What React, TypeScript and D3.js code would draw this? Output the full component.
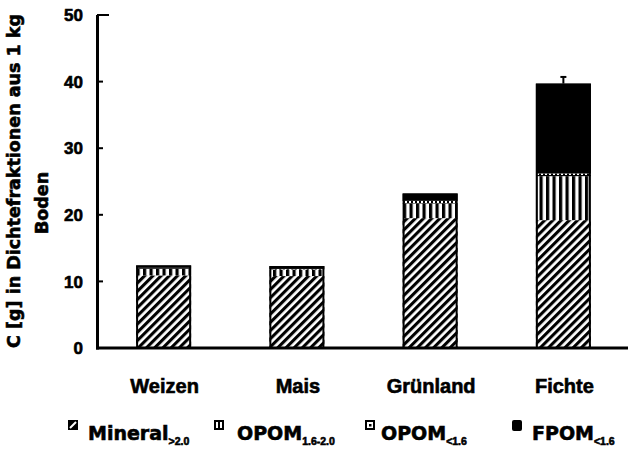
import React from "react";
import * as d3 from "d3";

const categories = ["Weizen", "Mais", "Grünland", "Fichte"];
const seriesKeys = ["mineral", "opom1620", "opom16", "fpom"];
const mineral = [10.9, 10.8, 19.5, 19.2];
const opom1620 = [1.0, 1.0, 2.2, 6.6];
const opom16 = [0.2, 0.2, 0.4, 0.4];
const fpom = [0.3, 0.3, 1.1, 13.5];
const errorTop = [0, 0, 0, 1.0];
const yTicks = [0, 10, 20, 30, 40, 50];
const legendMain = ["Mineral", "OPOM", "OPOM", "FPOM"];
const legendSub = [">2.0", "1.6-2.0", "<1.6", "<1.6"];

const W = 628;
const H = 453;

export default function App() {
  const data = categories.map((c, i) => ({
    cat: c,
    mineral: mineral[i],
    opom1620: opom1620[i],
    opom16: opom16[i],
    fpom: fpom[i],
  }));
  const stack = d3.stack<any>().keys(seriesKeys)(data);

  const x = d3
    .scaleBand<string>()
    .domain(categories)
    .range([97, 630])
    .paddingInner(0.587)
    .paddingOuter(0.2935);
  const y = d3.scaleLinear().domain([0, 50]).range([348, 15]);

  const fills: Record<string, string> = {
    mineral: "url(#hatch)",
    opom1620: "url(#vstripe)",
    opom16: "url(#dots)",
    fpom: "#000",
  };

  const legendIconX = [68, 214, 365, 512];
  const legendTextX = [88, 237, 381, 532];

  const bold = "'Liberation Sans', Arial, sans-serif";
  const dejavu = "'DejaVu Sans', sans-serif";
  const heavy = { stroke: "#000", strokeWidth: 0.6 };

  return (
    <svg
      width={W}
      height={H}
      style={{ position: "absolute", left: 0, top: 0, background: "#fff" }}
    >
      <defs>
        <pattern
          id="hatch"
          width={5.8}
          height={5.8}
          patternUnits="userSpaceOnUse"
          patternTransform="rotate(45)"
        >
          <rect width={5.8} height={5.8} fill="#fff" />
          <rect width={3.1} height={5.8} fill="#000" />
        </pattern>
        <pattern id="vstripe" width={6.5} height={6} patternUnits="userSpaceOnUse">
          <rect width={6.5} height={6} fill="#fff" />
          <rect width={3.2} height={6} fill="#000" />
        </pattern>
        <pattern id="dots" width={4} height={4} patternUnits="userSpaceOnUse">
          <rect width={4} height={4} fill="#000" />
          <rect x={1} y={1} width={2} height={2} fill="#fff" />
        </pattern>
      </defs>
      <rect width={W} height={H} fill="#fff" />

      {stack.map((s) =>
        s.map((d, i) => (
          <rect
            key={s.key + i}
            x={x(categories[i])}
            y={y(d[1])}
            width={x.bandwidth()}
            height={Math.max(0, y(d[0]) - y(d[1]))}
            fill={fills[s.key]}
          />
        ))
      )}
      {categories.map((c, i) => {
        const top = stack[stack.length - 1][i][1];
        return (
          <rect
            key={"o" + c}
            x={x(c)! + 1}
            y={y(top) + 1}
            width={x.bandwidth() - 2}
            height={y(0) - y(top) - 1}
            fill="none"
            stroke="#000"
            strokeWidth={2}
          />
        );
      })}
      {categories.map((c, i) => {
        if (!errorTop[i]) return null;
        const top = stack[stack.length - 1][i][1];
        const cx = x(c)! + x.bandwidth() / 2;
        return (
          <g key={"e" + c} stroke="#000" strokeWidth={2}>
            <line x1={cx} x2={cx} y1={y(top)} y2={y(top + errorTop[i])} />
            <line x1={cx - 3} x2={cx + 3} y1={y(top + errorTop[i])} y2={y(top + errorTop[i])} />
          </g>
        );
      })}

      <line x1={97.5} x2={97.5} y1={y(50)} y2={y(0) + 1.5} stroke="#000" strokeWidth={3} />
      <line x1={96} x2={628} y1={y(0)} y2={y(0)} stroke="#000" strokeWidth={3} />
      {yTicks.map((t) => (
        <g key={"t" + t}>
          {t > 0 && (
            <line
              x1={97}
              x2={t === 50 ? 109 : 103}
              y1={y(t)}
              y2={y(t)}
              stroke="#000"
              strokeWidth={2}
            />
          )}
          <text
            x={83}
            y={y(t)}
            dy="0.36em"
            textAnchor="end"
            fontFamily={bold}
            fontWeight="bold"
            fontSize={17}
            {...heavy}
          >
            {t}
          </text>
        </g>
      ))}

      {categories.map((c) => (
        <text
          key={"c" + c}
          x={x(c)! + x.bandwidth() / 2 + 1}
          y={393}
          textAnchor="middle"
          fontFamily={bold}
          fontWeight="bold"
          fontSize={20}
          {...heavy}
        >
          {c}
        </text>
      ))}

      <text
        transform="translate(20,181) rotate(-90)"
        textAnchor="middle"
        fontFamily={dejavu}
        fontWeight="bold"
        fontSize={17.5}
        {...heavy}
      >
        C [g] in Dichtefraktionen aus 1 kg
      </text>
      <text
        transform="translate(48,203) rotate(-90)"
        textAnchor="middle"
        fontFamily={dejavu}
        fontWeight="bold"
        fontSize={17.5}
        {...heavy}
      >
        Boden
      </text>

      {seriesKeys.map((k, i) => (
        <g key={"l" + k}>
          {k === "mineral" && (
            <g>
              <rect x={legendIconX[i]} y={420} width={10} height={10} fill="#000" />
              <line
                x1={legendIconX[i] + 2}
                y1={428}
                x2={legendIconX[i] + 8}
                y2={422}
                stroke="#fff"
                strokeWidth={2}
              />
            </g>
          )}
          {k === "opom1620" && (
            <g>
              <rect x={legendIconX[i]} y={420} width={10} height={10} fill="#000" />
              <rect x={legendIconX[i] + 2} y={422} width={2} height={6} fill="#fff" />
              <rect x={legendIconX[i] + 6} y={422} width={2} height={6} fill="#fff" />
            </g>
          )}
          {k === "opom16" && (
            <g>
              <rect
                x={legendIconX[i] + 1}
                y={421}
                width={8}
                height={8}
                fill="#fff"
                stroke="#000"
                strokeWidth={2}
              />
              <rect x={legendIconX[i] + 4} y={424} width={2.5} height={2.5} fill="#000" />
            </g>
          )}
          {k === "fpom" && (
            <rect x={legendIconX[i]} y={420} width={10} height={11} rx={2} fill="#000" />
          )}
          <text
            x={legendTextX[i]}
            y={440}
            fontFamily={dejavu}
            fontWeight="bold"
            fontSize={19}
            {...heavy}
          >
            {legendMain[i]}
            <tspan dy={5} fontFamily={bold} fontSize={10.5}>
              {legendSub[i]}
            </tspan>
          </text>
        </g>
      ))}
    </svg>
  );
}
